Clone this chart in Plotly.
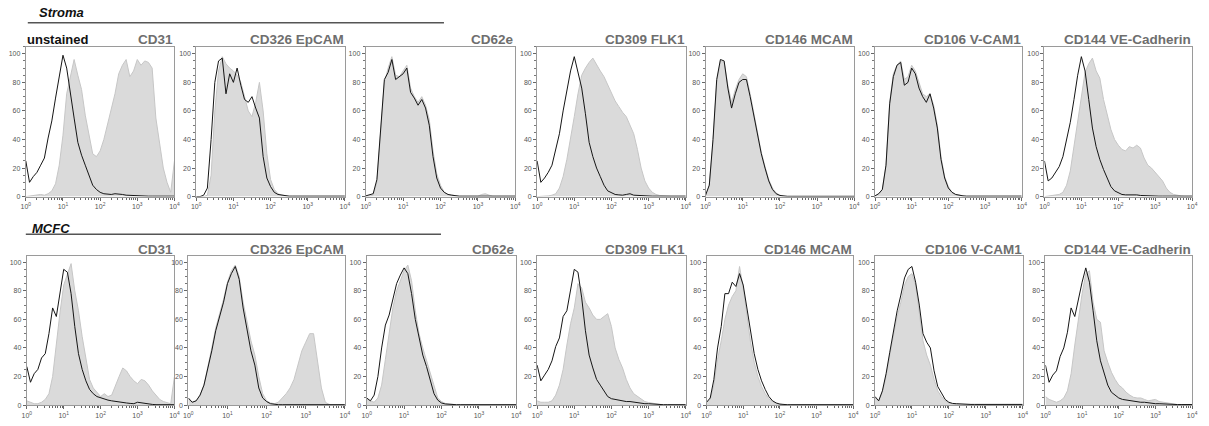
import plotly.graph_objects as go

# ---------------------------------------------------------------------------
# Histogram data: % of max per log-spaced channel (log10 of fluorescence)
# ---------------------------------------------------------------------------
LOG_CHANNELS = [0.0, 0.1, 0.2, 0.3, 0.4, 0.5, 0.6, 0.7, 0.8, 0.9,
                1.0, 1.1, 1.2, 1.3, 1.4, 1.5, 1.6, 1.7, 1.8, 1.9,
                2.0, 2.1, 2.2, 2.3, 2.4, 2.5, 2.6, 2.7, 2.8, 2.9,
                3.0, 3.1, 3.2, 3.3, 3.4, 3.5, 3.6, 3.7, 3.8, 3.9,
                4.0]

MARKERS = ["CD31", "CD326 EpCAM", "CD62e", "CD309 FLK1",
           "CD146 MCAM", "CD106 V-CAM1", "CD144 VE-Cadherin"]

# ---- Stroma: stained (grey filled) ----
s_cd31 = [0, 0.5, 0.5, 1, 1.5, 1, 2, 4, 9, 22,
          43, 72, 84, 96, 85, 75, 57, 42, 30, 28,
          32, 40, 50, 62, 72, 86, 92, 96, 84, 88,
          96, 92, 95, 94, 90, 55, 38, 20, 10, 3,
          25]
s_epcam = [0, 0, 0, 1, 15, 60, 88, 98, 93, 90,
           88, 85, 80, 70, 60, 56, 66, 80, 60, 30,
           12, 5, 2, 1, 0.5, 0.3, 0.3, 0.3, 0.3, 0.3,
           0.3, 0.3, 0.3, 0.3, 0.3, 0.3, 0.3, 0.3, 0.3, 0.3,
           0.3]
s_cd62e = [0, 0.5, 1, 10, 48, 80, 90, 98, 85, 84,
           88, 92, 76, 70, 66, 70, 64, 54, 32, 16,
           8, 3, 1.5, 1, 0.5, 0.3, 0.3, 0.3, 0.3, 0.3,
           0.3, 1.5, 2, 1, 0.3, 0.3, 0.3, 0.3, 0.3, 0.3,
           0.3]
s_flk1 = [0, 0, 0.5, 0.5, 1, 2, 6, 14, 26, 40,
          56, 72, 85, 90, 94, 97, 92, 88, 84, 78,
          72, 67, 63, 59, 56, 50, 44, 33, 20, 11,
          6, 3, 1.5, 0.8, 0.5, 0.3, 0.3, 0.3, 0.3, 0.3,
          0.3]
s_mcam = [1, 8, 38, 80, 95, 94, 78, 66, 75, 82,
          86, 84, 72, 58, 43, 31, 21, 12, 6, 2.5,
          1, 0.3, 0.2, 0.2, 0.2, 0.2, 0.2, 0.2, 0.2, 0.2,
          0.2, 0.2, 0.2, 0.2, 0.2, 0.2, 0.2, 0.2, 0.2, 0.2,
          0.2]
s_vcam = [0.5, 2, 5, 22, 66, 86, 92, 95, 82, 84,
          92, 88, 80, 72, 70, 72, 64, 50, 28, 14,
          7, 3, 1.5, 0.8, 0.5, 0.3, 0.3, 0.3, 0.3, 0.3,
          0.3, 0.3, 0.3, 0.3, 0.3, 0.3, 0.3, 0.3, 0.3, 0.3,
          0.3]
s_vecad = [0, 0.5, 0.5, 1, 1.5, 3, 8, 18, 35, 52,
           72, 87, 93, 97, 88, 83, 68, 58, 47, 40,
           36, 33, 32, 35, 34, 36, 34, 27, 22, 20,
           17, 14, 11, 6, 3, 1.5, 0.8, 0.5, 0.3, 0.3,
           0.3]

# ---- Stroma: unstained control (black line) ----
s_cd31_u = [25, 10, 14, 17, 22, 27, 41, 53, 69, 84,
            99, 90, 74, 55, 38, 29, 22, 15, 8, 5,
            3, 2, 1.5, 1.5, 2, 2, 1.5, 1, 0.8, 0.6,
            0.5, 0.4, 0.4, 0.3, 0.3, 0.3, 0.3, 0.3, 0.3, 0.3,
            0.3]
s_epcam_u = [0, 0, 1, 6, 40, 80, 95, 97, 72, 86,
             80, 90, 78, 68, 66, 70, 62, 55, 28, 13,
             7, 3, 1.5, 1, 0.5, 0.3, 0.3, 0.3, 0.3, 0.3,
             0.3, 0.3, 0.3, 0.3, 0.3, 0.3, 0.3, 0.3, 0.3, 0.3,
             0.3]
s_cd62e_u = [0.5, 1, 2, 12, 50, 82, 87, 96, 82, 84,
             86, 90, 73, 69, 64, 68, 62, 50, 28, 13,
             6, 3, 1.5, 1, 0.5, 0.3, 0.3, 0.3, 0.3, 0.3,
             0.3, 0.3, 0.3, 0.3, 0.3, 0.3, 0.3, 0.3, 0.3, 0.3,
             0.3]
s_flk1_u = [25, 10, 13, 17, 22, 32, 44, 60, 73, 88,
            98, 86, 76, 58, 38, 28, 20, 14, 8, 4,
            2.5, 1.5, 1.2, 1, 1.5, 2, 1, 0.8, 0.5, 0.3,
            0.3, 0.3, 0.3, 0.3, 0.3, 0.3, 0.3, 0.3, 0.3, 0.3,
            0.3]
s_mcam_u = [1, 8, 40, 82, 96, 95, 76, 62, 72, 80,
            82, 82, 70, 57, 42, 30, 20, 11, 5, 2,
            0.8, 0.3, 0.2, 0.2, 0.2, 0.2, 0.2, 0.2, 0.2, 0.2,
            0.2, 0.2, 0.2, 0.2, 0.2, 0.2, 0.2, 0.2, 0.2, 0.2,
            0.2]
s_vcam_u = [0.5, 2, 5, 22, 65, 84, 92, 94, 78, 80,
            90, 86, 76, 70, 66, 72, 62, 48, 26, 13,
            6, 3, 1.5, 0.8, 0.5, 0.3, 0.3, 0.3, 0.3, 0.3,
            0.3, 0.3, 0.3, 0.3, 0.3, 0.3, 0.3, 0.3, 0.3, 0.3,
            0.3]
s_vecad_u = [25, 11, 13, 17, 21, 28, 40, 52, 68, 85,
             98, 88, 68, 48, 35, 26, 19, 13, 7, 4,
             2.5, 1.5, 1.2, 1.2, 1.5, 1.2, 0.8, 0.6, 0.5, 0.3,
             0.3, 0.3, 0.3, 0.3, 0.3, 0.3, 0.3, 0.3, 0.3, 0.3,
             0.3]

# ---- MCFC: stained (grey filled) ----
m_cd31 = [3, 2, 1, 1, 2, 4, 8, 20, 44, 65,
          84, 92, 99, 80, 66, 48, 32, 18, 12, 9,
          6, 8, 6, 7, 14, 20, 26, 24, 20, 17,
          15, 18, 17, 14, 10, 7, 4, 2.5, 1.5, 1,
          20]
m_epcam = [4, 2, 3, 7, 14, 26, 40, 54, 64, 74,
           86, 94, 98, 90, 72, 58, 45, 35, 20, 8,
           3, 1.5, 1, 2, 5, 8, 12, 18, 28, 38,
           44, 50, 50, 30, 12, 2, 0.5, 0.3, 0.3, 0.3,
           0.3]
m_cd62e = [4, 3, 2, 5, 14, 32, 50, 68, 80, 87,
           94, 98, 87, 66, 50, 40, 31, 22, 13, 5,
           2.5, 1.2, 0.8, 0.3, 0.3, 0.3, 0.3, 0.3, 0.3, 0.3,
           0.3, 0.3, 0.3, 0.3, 0.3, 0.3, 0.3, 0.3, 0.3, 0.3,
           0.3]
m_flk1 = [3, 2, 2, 2, 3, 7, 14, 25, 42, 57,
          68, 85, 82, 72, 68, 63, 60, 60, 62, 64,
          55, 40, 32, 26, 18, 12, 8, 6, 4, 2.5,
          1.8, 1.2, 0.8, 0.5, 0.3, 0.3, 0.3, 0.3, 0.3, 0.3,
          0.3]
m_mcam = [2, 4, 14, 32, 45, 60, 70, 76, 80, 97,
          82, 62, 44, 30, 20, 13, 8, 4.5, 2.5, 1.2,
          0.5, 0.3, 0.3, 0.3, 0.3, 0.3, 0.3, 0.3, 0.3, 0.3,
          0.3, 0.3, 0.3, 0.3, 0.3, 0.3, 0.3, 0.3, 0.3, 0.3,
          0.3]
m_vcam = [5, 3, 9, 20, 35, 50, 62, 72, 84, 90,
          92, 84, 65, 45, 35, 28, 18, 10, 6, 3,
          1.5, 0.8, 0.3, 0.3, 0.3, 0.3, 0.3, 0.3, 0.3, 0.3,
          0.3, 0.3, 0.3, 0.3, 0.3, 0.3, 0.3, 0.3, 0.3, 0.3,
          0.3]
m_vecad = [6, 4, 3, 2, 3, 5, 10, 22, 42, 62,
           78, 92, 94, 72, 60, 58, 38, 30, 23, 18,
           14, 12, 9, 7, 5.5, 5, 5, 4, 3, 3.5,
           4, 2.5, 2, 1.5, 1, 0.6, 0.4, 0.4, 0.4, 0.4,
           0.4]

# ---- MCFC: unstained control (black line) ----
m_cd31_u = [27, 16, 22, 25, 33, 36, 50, 68, 62, 78,
            95, 93, 78, 55, 36, 25, 17, 11, 8, 6,
            5, 4, 3.5, 3, 2.5, 2, 2, 1.5, 1.2, 1,
            2, 1.5, 1, 0.7, 0.5, 0.3, 0.3, 0.3, 0.3, 0.3,
            0.3]
m_epcam_u = [5, 2, 3, 7, 14, 25, 38, 52, 62, 72,
             85, 92, 97, 88, 68, 52, 38, 28, 12, 5,
             2.5, 1, 0.5, 0.3, 0.3, 0.3, 0.3, 0.3, 0.3, 0.3,
             0.3, 0.3, 0.3, 0.3, 0.3, 0.3, 0.3, 0.3, 0.3, 0.3,
             0.3]
m_cd62e_u = [5, 3, 7, 20, 40, 56, 63, 74, 85, 91,
             96, 92, 78, 60, 47, 35, 27, 18, 8, 3.5,
             1.5, 0.8, 0.5, 0.3, 0.3, 0.3, 0.3, 0.3, 0.3, 0.3,
             0.3, 0.3, 0.3, 0.3, 0.3, 0.3, 0.3, 0.3, 0.3, 0.3,
             0.3]
m_flk1_u = [28, 17, 21, 25, 31, 41, 47, 62, 66, 82,
            95, 93, 75, 52, 35, 26, 18, 14, 10, 6,
            4.5, 4, 3, 3, 2.5, 2.5, 2, 1.5, 1.5, 1,
            1, 0.7, 0.5, 0.3, 0.3, 0.3, 0.3, 0.3, 0.3, 0.3,
            0.3]
m_mcam_u = [2, 5, 18, 40, 55, 78, 78, 86, 83, 92,
            84, 68, 50, 36, 25, 17, 11, 6, 3, 1.5,
            0.7, 0.3, 0.3, 0.3, 0.3, 0.3, 0.3, 0.3, 0.3, 0.3,
            0.3, 0.3, 0.3, 0.3, 0.3, 0.3, 0.3, 0.3, 0.3, 0.3,
            0.3]
m_vcam_u = [6, 3, 10, 22, 37, 53, 66, 77, 89, 95,
            97, 86, 70, 50, 44, 40, 24, 13, 8, 4,
            2, 1.2, 1, 0.8, 0.5, 0.5, 0.5, 0.5, 0.5, 0.5,
            0.5, 0.5, 0.5, 0.5, 0.5, 0.5, 0.5, 0.5, 0.5, 0.5,
            0.5]
m_vecad_u = [28, 16, 21, 24, 34, 40, 51, 68, 62, 75,
             86, 96, 86, 66, 45, 31, 22, 14, 9, 7,
             5, 4, 3.5, 3, 2.5, 2.5, 2, 2, 1.5, 1.2,
             1, 1, 0.8, 0.6, 0.5, 0.4, 0.4, 0.4, 0.4, 0.4,
             0.4]

ROWS = [
    ("Stroma", [s_cd31, s_epcam, s_cd62e, s_flk1, s_mcam, s_vcam, s_vecad],
     [s_cd31_u, s_epcam_u, s_cd62e_u, s_flk1_u, s_mcam_u, s_vcam_u, s_vecad_u]),
    ("MCFC", [m_cd31, m_epcam, m_cd62e, m_flk1, m_mcam, m_vcam, m_vecad],
     [m_cd31_u, m_epcam_u, m_cd62e_u, m_flk1_u, m_mcam_u, m_vcam_u, m_vecad_u]),
]

X_TICKS = [1, 10, 100, 1000, 10000]
X_TICKTEXT = ["10<sup>0</sup>", "10<sup>1</sup>", "10<sup>2</sup>",
              "10<sup>3</sup>", "10<sup>4</sup>"]
Y_TICKS = [0, 20, 40, 60, 80, 100]

# ---------------------------------------------------------------------------
# Layout geometry (pixels)
# ---------------------------------------------------------------------------
W, H = 1209, 426
PANEL_X = [
    [(21, 171), (193, 343), (364, 515), (537, 687), (707, 857), (878, 1026), (1049, 1198)],
    [(22, 171), (185, 343), (365, 516), (537, 687), (708, 856), (878, 1027), (1050, 1198)],
]
PANEL_Y = [(47, 198), (258, 408)]
Y_TOP = [105, 104.2]
TITLE_Y = [40, 251]
HEADER = [(32, 13, 23, 443, 23), (25, 230, 21, 440, 236)]

FONT = "Liberation Sans, Arial, Helvetica, sans-serif"
FILL_COLOR = "#dadada"
FILL_EDGE = "#c6c6c6"
FRAME = "#9a9a9a"
TITLE_GREY = "#6e6e6e"

intensity = [10 ** c for c in LOG_CHANNELS]
minor_x = [m * 10 ** d for d in range(4) for m in range(2, 10)]


def px_x(x):
    return x / W


def px_y(y):
    return 1 - y / H


fig = go.Figure()
layout = dict(
    width=W, height=H,
    margin=dict(l=0, r=0, t=0, b=0),
    paper_bgcolor="white", plot_bgcolor="white",
    showlegend=False,
    font=dict(family=FONT, size=7),
)
annotations = []
shapes = []

for r, (group, stained_sets, control_sets) in enumerate(ROWS):
    y0, y1 = PANEL_Y[r]
    for c in range(7):
        k = r * 7 + c + 1
        xs = "x" if k == 1 else f"x{k}"
        ys = "y" if k == 1 else f"y{k}"
        x0, x1 = PANEL_X[r][c]

        fig.add_trace(go.Scatter(
            x=intensity, y=stained_sets[c], xaxis=xs, yaxis=ys,
            mode="lines", fill="tozeroy", fillcolor=FILL_COLOR,
            line=dict(color=FILL_EDGE, width=1), hoverinfo="skip"))
        fig.add_trace(go.Scatter(
            x=intensity, y=control_sets[c], xaxis=xs, yaxis=ys,
            mode="lines", line=dict(color="#151515", width=1),
            hoverinfo="skip"))

        xkey = "xaxis" if k == 1 else f"xaxis{k}"
        ykey = "yaxis" if k == 1 else f"yaxis{k}"
        layout[xkey] = dict(
            domain=[px_x(x0), px_x(x1)], anchor=ys, type="log",
            range=[0, 4], showline=True, linecolor=FRAME, linewidth=1,
            mirror=True, showgrid=False, zeroline=False,
            ticks="outside", ticklen=3, tickcolor="#666", tickwidth=1,
            tickmode="array", tickvals=X_TICKS, ticktext=X_TICKTEXT,
            tickfont=dict(size=7, color="#555555", family=FONT),
            minor=dict(tickmode="array", tickvals=minor_x, ticks="outside",
                       ticklen=2, tickcolor="#666", showgrid=False),
            fixedrange=True,
        )
        layout[ykey] = dict(
            domain=[px_y(y1), px_y(y0)], anchor=xs,
            range=[0, Y_TOP[r]], showline=True, linecolor=FRAME, linewidth=1,
            mirror=True, showgrid=False, zeroline=False,
            ticks="outside", ticklen=3, tickcolor="#666", tickwidth=1,
            tickmode="array", tickvals=Y_TICKS,
            tickfont=dict(size=7, color="#555555", family=FONT),
            minor=dict(dtick=5, ticks="outside", ticklen=2,
                       tickcolor="#777", showgrid=False),
            fixedrange=True,
        )

        annotations.append(dict(
            x=px_x(x1 + 1), y=px_y(TITLE_Y[r]), xref="paper", yref="paper",
            xanchor="right", yanchor="middle", showarrow=False,
            text=f"<b>{MARKERS[c]}</b>",
            font=dict(size=13.5, color=TITLE_GREY, family=FONT)))

    tx, ty, lx0, lx1, ly = HEADER[r]
    annotations.append(dict(
        x=px_x(tx), y=px_y(ty), xref="paper", yref="paper",
        xanchor="left", yanchor="middle", showarrow=False,
        text=f"<b><i>{group}</i></b>",
        font=dict(size=13, color="#111111", family=FONT)))
    shapes.append(dict(
        type="line", xref="paper", yref="paper",
        x0=px_x(lx0), x1=px_x(lx1), y0=px_y(ly), y1=px_y(ly),
        line=dict(color="#555555", width=1.5)))

annotations.append(dict(
    x=px_x(20), y=px_y(40), xref="paper", yref="paper",
    xanchor="left", yanchor="middle", showarrow=False,
    text="<b>unstained</b>",
    font=dict(size=13, color="#111111", family=FONT)))

layout["annotations"] = annotations
layout["shapes"] = shapes
fig.update_layout(**layout)

fig.write_html("out.html")
